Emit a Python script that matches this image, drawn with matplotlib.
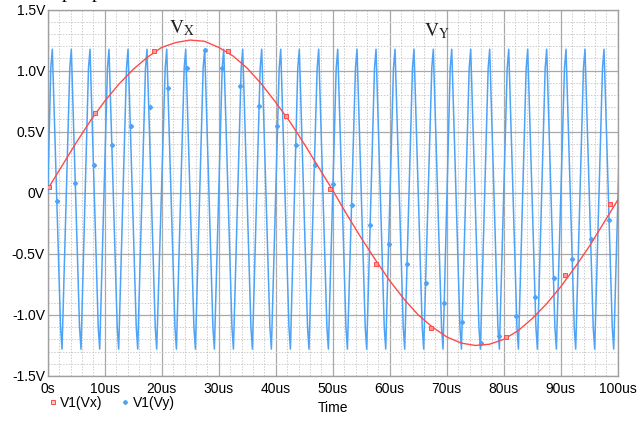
import matplotlib
matplotlib.use("Agg")
import matplotlib.pyplot as plt
from matplotlib.lines import Line2D
from matplotlib.ticker import MultipleLocator

plt.rcParams['font.family'] = ['Liberation Sans', 'DejaVu Sans']
plt.rcParams['mathtext.fontset'] = 'stix'

# V1(Vx): slow sine, sampled every 2.5us
vx_t = [0, 2.5, 5, 7.5, 10, 12.5, 15, 17.5, 20, 22.5, 25, 27.5, 30, 32.5, 35, 37.5,
        40, 42.5, 45, 47.5, 50, 52.5, 55, 57.5, 60, 62.5, 65, 67.5, 70, 72.5, 75,
        77.5, 80, 82.5, 85, 87.5, 90, 92.5, 95, 97.5, 100]
vx_v = [0.03, 0.22, 0.41, 0.59, 0.75, 0.89, 1.01, 1.11, 1.19, 1.23, 1.25, 1.24, 1.19,
        1.12, 1.02, 0.89, 0.74, 0.58, 0.40, 0.21, 0.02, -0.18, -0.37, -0.55, -0.72,
        -0.87, -1.00, -1.10, -1.18, -1.23, -1.25, -1.24, -1.20, -1.13, -1.03, -0.91,
        -0.77, -0.61, -0.44, -0.25, -0.06]
vx_mark_t = [0.23, 8.30, 18.65, 31.63, 41.81, 49.53, 57.60, 67.25, 80.40, 90.75, 98.65]
vx_mark_v = [0.05, 0.65, 1.16, 1.16, 0.63, 0.03, -0.58, -1.11, -1.18, -0.67, -0.09]

# V1(Vy): fast wave, peak times (us) and the vertex shape around each peak
vy_peaks = [0.81, 4.14, 7.42, 10.75, 14.09, 17.42, 20.88, 24.21, 27.54, 30.88,
            34.21, 37.54, 40.88, 44.14, 47.54, 50.88, 54.26, 57.60, 60.93, 64.26,
            67.65, 70.88, 74.21, 77.54, 80.88, 84.21, 87.54, 90.93, 94.26, 97.60]
vy_shape_dt = [-0.27, 0.0, 1.44, 1.70]
vy_shape_v = [1.02, 1.175, -1.10, -1.28]
vy_start = (0.0, 0.0)
vy_end = (100.67, 1.02)
vy_mark_t = [1.63, 4.79, 8.04, 11.28, 14.61, 17.86, 21.05, 24.39, 27.60, 30.58,
             33.79, 37.04, 40.30, 43.54, 46.81, 50.05, 53.32, 56.56, 59.82, 63.07,
             66.33, 69.53, 72.74, 76.02, 79.12, 82.21, 85.49, 88.74, 91.98, 95.23, 98.47]
vy_mark_v = [-0.07, 0.08, 0.23, 0.39, 0.55, 0.70, 0.86, 1.02, 1.17, 1.02,
             0.87, 0.71, 0.55, 0.39, 0.23, 0.07, -0.10, -0.26, -0.42, -0.58,
             -0.74, -0.90, -1.06, -1.23, -1.17, -1.01, -0.85, -0.70, -0.54, -0.38, -0.22]

x_ticks = [0, 10, 20, 30, 40, 50, 60, 70, 80, 90, 100]
x_labels = ['0s', '10us', '20us', '30us', '40us', '50us', '60us', '70us', '80us', '90us', '100us']
y_ticks = [1.5, 1.0, 0.5, 0, -0.5, -1.0, -1.5]
y_labels = ['1.5V', '1.0V', '0.5V', '0V', '-0.5V', '-1.0V', '-1.5V']

RED = '#ff4a4a'
BLUE = '#4da3f7'

# build the Vy polyline
vy_t = [vy_start[0]]
vy_v = [vy_start[1]]
for p in vy_peaks:
    for dt, v in zip(vy_shape_dt, vy_shape_v):
        vy_t.append(p + dt)
        vy_v.append(v)
vy_t.append(vy_end[0])
vy_v.append(vy_end[1])

fig = plt.figure(figsize=(6.38, 4.21), dpi=100)
ax = fig.add_axes([0.0748, 0.1069, 0.8934, 0.8705])

ax.plot(vy_t, vy_v, color=BLUE, lw=1.1, zorder=3)
ax.plot(vy_mark_t, vy_mark_v, ls='none', marker='D', ms=2.1, color=BLUE, zorder=4)
ax.plot(vx_t, vx_v, color=RED, lw=1.0, zorder=5)
ax.plot(vx_mark_t, vx_mark_v, ls='none', marker='s', ms=3.3, mfc='#ff9a9a', mec=RED,
        mew=0.7, zorder=6)

ax.set_xlim(0, 100)
ax.set_ylim(-1.5, 1.5)
ax.set_xticks(x_ticks)
ax.set_xticklabels(x_labels)
ax.set_yticks(y_ticks)
ax.set_yticklabels(y_labels)
ax.xaxis.set_minor_locator(MultipleLocator(2))
ax.yaxis.set_minor_locator(MultipleLocator(0.1))
ax.tick_params(which='both', length=0, labelsize=10, colors='black')
ax.tick_params(axis='x', pad=4)
ax.tick_params(axis='y', pad=2)
ax.grid(which='major', color='#a8a8a8', lw=0.9, zorder=1)
ax.grid(which='minor', color='#cccccc', lw=0.7, ls=(0, (1.5, 1.5)), zorder=1)
for s in ax.spines.values():
    s.set_color('#a0a0a0')
    s.set_linewidth(1.0)

ax.text(21.2, 1.307, r'$\mathrm{V}_{\mathrm{X}}$', fontsize=14, color='#222222')
ax.text(66.0, 1.279, r'$\mathrm{V}_{\mathrm{Y}}$', fontsize=14, color='#222222')

fig.text(0.522, 0.015, 'Time', ha='center', va='bottom', fontsize=10)

handles = [
    Line2D([], [], ls='none', marker='s', ms=3.3, mfc='#ffcccc', mec=RED, mew=0.7, label='V1(Vx)'),
    Line2D([], [], ls='none', marker='D', ms=2.1, color=BLUE, label='V1(Vy)'),
]
fig.legend(handles=handles, loc='center left', bbox_to_anchor=(0.064, 0.043), ncol=2,
           frameon=False, fontsize=10, handlelength=0.7, handletextpad=0.2,
           columnspacing=1.25, borderpad=0)

# descenders of the caption line above the plot
fig.text(67 / 638, 1 + 2.0 / 421, 'p', family='Liberation Serif', fontsize=14,
         ha='center', va='baseline')
fig.text(96 / 638, 1 + 2.0 / 421, 'p', family='Liberation Serif', fontsize=14,
         ha='center', va='baseline')

fig.savefig('out.png', dpi=100)
